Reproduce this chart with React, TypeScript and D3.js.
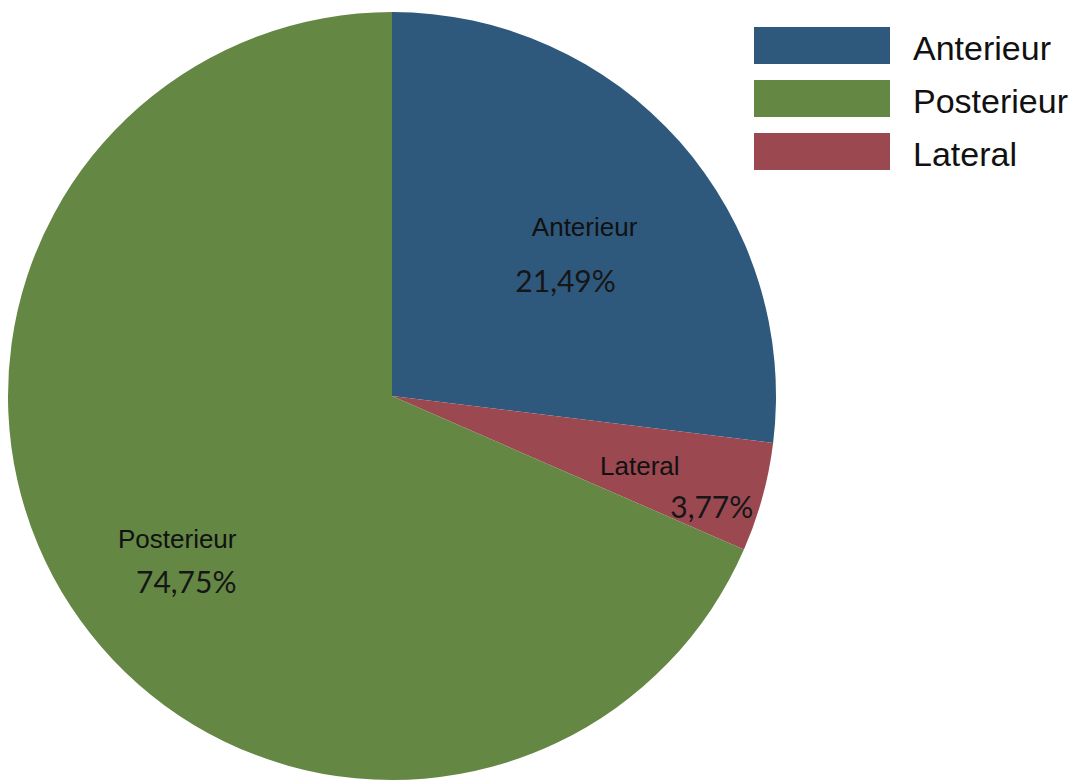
import React from "react";
import * as d3 from "d3";

const categories = ["Anterieur", "Lateral", "Posterieur"];
const sliceValues = [26.95, 4.6, 68.45];
const percentLabels = ["21,49%", "3,77%", "74,75%"];
const colors = ["#2E587C", "#9B4851", "#648744"];
const legendOrder = ["Anterieur", "Posterieur", "Lateral"];

const W = 1081;
const H = 783;
const cx = 392;
const cy = 396;
const R = 384;

// label layout: radius fraction and offsets for name / percent lines
const labelLayout: Record<string, { rf: number; name: [number, number]; pct: [number, number] }> = {
  Anterieur: { rf: 0.6, name: [20, -7], pct: [1, 49] },
  Lateral: { rf: 0.75, name: [-30, 3], pct: [42, 46] },
  Posterieur: { rf: 0.6, name: [-22, 26], pct: [-13, 71] },
};

export default function App() {
  const pie = d3
    .pie<number>()
    .sort(null)
    .value((d) => d)(sliceValues);
  const arc = d3.arc<d3.PieArcDatum<number>>().innerRadius(0).outerRadius(R);

  const color = d3.scaleOrdinal<string, string>().domain(categories).range(colors);

  return (
    <svg
      width={W}
      height={H}
      style={{ position: "absolute", left: 0, top: 0, display: "block", background: "#fff" }}
    >
      <g transform={`translate(${cx},${cy})`}>
        {pie.map((p, i) => (
          <path key={categories[i]} d={arc(p) || ""} fill={color(categories[i])} />
        ))}
        {pie.map((p, i) => {
          const L = labelLayout[categories[i]];
          const la = d3.arc<d3.PieArcDatum<number>>().innerRadius(R * L.rf).outerRadius(R * L.rf);
          const [x, y] = la.centroid(p);
          return (
            <g key={"l" + i}>
              <text
                x={x + L.name[0]}
                y={y + L.name[1]}
                textAnchor="middle"
                fontFamily="'Liberation Sans', Arial, sans-serif"
                fontSize={26}
                fill="#111"
              >
                {categories[i]}
              </text>
              <text
                x={x + L.pct[0]}
                y={y + L.pct[1]}
                textAnchor="middle"
                fontFamily="Lato, 'Open Sans', sans-serif"
                fontSize={30}
                fill="#161616"
              >
                {percentLabels[i]}
              </text>
            </g>
          );
        })}
      </g>
      <g>
        {legendOrder.map((name, i) => (
          <g key={name} transform={`translate(754,${27 + i * 53})`}>
            <rect width={136} height={37} fill={color(name)} />
            <text
              x={159}
              y={33}
              fontFamily="'Liberation Sans', Arial, sans-serif"
              fontSize={34}
              fill="#111"
            >
              {name}
            </text>
          </g>
        ))}
      </g>
    </svg>
  );
}
